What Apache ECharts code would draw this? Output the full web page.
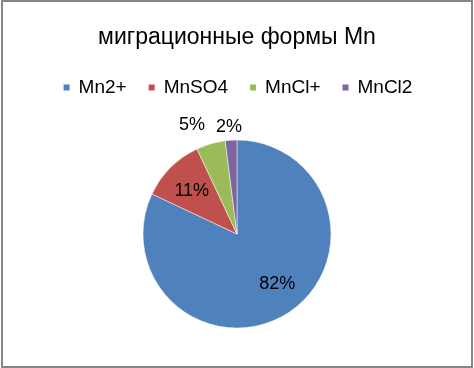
<!DOCTYPE html>
<html><head><meta charset="utf-8">
<script src="https://cdn.jsdelivr.net/npm/echarts@6/dist/echarts.min.js"></script>
<style>html,body{margin:0;padding:0;background:#fff}#c{width:474px;height:368px}</style>
</head><body><div id="c"></div>
<script>
const titleText = "миграционные формы Mn";
const categories = ["Mn2+", "MnSO4", "MnCl+", "MnCl2"];
const values = [82, 11, 5, 2];
const colors = ["#4F81BD", "#C0504D", "#9BBB59", "#8064A2"];
const FONT = "'Liberation Sans', Arial, sans-serif";

const CX = 237, CY = 234, R = 94;
// label placement (distance from centre, extra nudge) – styling only
const labelDist = [64, 64, 118, 111];
const labelNudge = [[6, -4], [0, 2], [-12, 4], [-1, 4]];

const chart = echarts.init(document.getElementById('c'));
const data = categories.map((name, i) => ({ name, value: values[i] }));
chart.setOption({
  backgroundColor: '#fff',
  color: colors,
  animation: false,
  title: {
    text: titleText, left: 'center', top: 21,
    textStyle: { fontFamily: FONT, fontSize: 23, fontWeight: 'normal', color: '#000' }
  },
  legend: {
    data: categories, top: 73, left: 'center',
    itemWidth: 8, itemHeight: 8, itemGap: 20, icon: 'rect',
    textStyle: { fontFamily: FONT, fontSize: 19, color: '#000', padding: [0, 0, 0, 3] }
  },
  graphic: [{
    type: 'rect', shape: { x: 2, y: 1, width: 470, height: 366 },
    style: { fill: 'none', stroke: '#868686', lineWidth: 2 }, silent: true
  }],
  series: [{
    type: 'pie', center: [CX, CY], radius: [0, R],
    startAngle: 90, clockwise: true, avoidLabelOverlap: false,
    itemStyle: { borderColor: '#fff', borderWidth: 0.5 },
    label: {
      show: true, position: 'inside', formatter: '{d}%',
      fontFamily: FONT, fontSize: 18, color: '#000'
    },
    labelLayout: function (p) {
      const i = p.dataIndex, r = p.labelRect;
      const x0 = r.x + r.width / 2, y0 = r.y + r.height / 2;
      const vx = x0 - CX, vy = y0 - CY;
      const d = Math.sqrt(vx * vx + vy * vy) || 1;
      const f = labelDist[i] / d;
      return { dx: vx * (f - 1) + labelNudge[i][0], dy: vy * (f - 1) + labelNudge[i][1], hideOverlap: false };
    },
    labelLine: { show: false },
    emphasis: { disabled: true },
    data
  }]
});
</script></body></html>
